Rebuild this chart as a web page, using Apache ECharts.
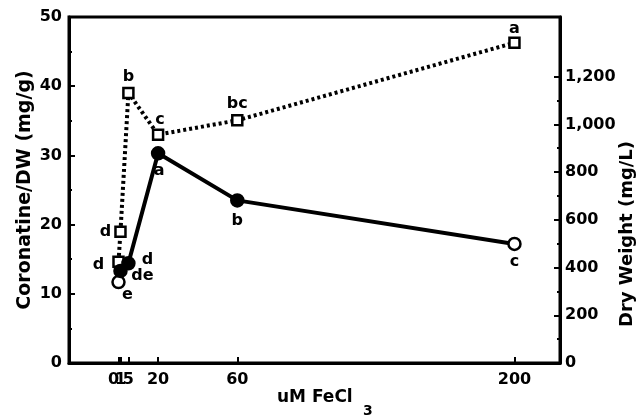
<!DOCTYPE html>
<html>
<head>
<meta charset="utf-8">
<script src="https://cdn.jsdelivr.net/npm/echarts@6/dist/echarts.min.js"></script>
<style>html,body{margin:0;padding:0;background:#fff}#c{width:639px;height:417px}</style>
</head>
<body>
<div id="c"></div>
<script>
// ---- data ----
const xValues = [0, 1, 5, 20, 60, 200];
const coronatine = [11.7, 13.3, 14.4, 30.3, 23.5, 17.2];
const coronatineLetters = ['e', 'de', 'd', 'a', 'b', 'c'];
const dryWeight = [424, 550, 1132, 957, 1017, 1342];
const dryWeightLetters = ['d', 'd', 'b', 'c', 'bc', 'a'];
const xTickValues = [0, 1, 5, 20, 60, 200];
const leftTickValues = [0, 10, 20, 30, 40, 50];
const rightTickValues = [0, 200, 400, 600, 800, 1000, 1200];
const rightMinorTickValues = [100, 300, 500, 700, 900, 1100];
const xTitle = 'uM FeCl';
const xTitleSub = '3';
const leftTitle = 'Coronatine/DW (mg/g)';
const rightTitle = 'Dry Weight (mg/L)';

// ---- styling ----
const FONT = 'DejaVu Sans';
const corLabelOffsets = [[9, 13], [22, 5], [19, -4], [1, 18], [0, 20], [0, 18]];
const dwLabelOffsets = [[-20, 3], [-15, 0], [0, -16], [2, -15], [0, -16], [0, -14]];
const corFilled = [false, true, true, true, true, false];

const chart = echarts.init(document.getElementById('c'), null, {renderer: 'canvas'});

const labelStyle = {fontFamily: FONT, fontWeight: 'bold', fontSize: 16, color: '#000'};

const corData = xValues.map((x, i) => ({
  value: [x, coronatine[i]],
  itemStyle: {color: corFilled[i] ? '#000' : '#fff', borderColor: '#000', borderWidth: 2.5},
  label: Object.assign({show: true, formatter: coronatineLetters[i], position: 'inside',
    offset: corLabelOffsets[i], align: 'center', verticalAlign: 'middle'}, labelStyle)
}));
const dwData = xValues.map((x, i) => ({
  value: [x, dryWeight[i]],
  label: Object.assign({show: true, formatter: dryWeightLetters[i], position: 'inside',
    offset: dwLabelOffsets[i], align: 'center', verticalAlign: 'middle'}, labelStyle)
}));

const axisText = {fontFamily: FONT, fontWeight: 'bold', fontSize: 16, color: '#000'};
const tickLine = {width: 2, color: '#000'};

chart.setOption({
  animation: false,
  backgroundColor: '#fff',
  grid: {left: 69, right: 79, top: 17, bottom: 54, show: true, borderColor: '#000', borderWidth: 3, backgroundColor: 'transparent'},
  xAxis: [
    {
      type: 'value', min: -25, max: 223, position: 'bottom',
      splitLine: {show: false},
      axisLine: {onZero: false, lineStyle: {color: '#000', width: 3}},
      axisTick: {inside: true, length: 6, lineStyle: tickLine, customValues: xTickValues},
      axisLabel: Object.assign({margin: 9, customValues: xTickValues.filter(v => v !== 1), hideOverlap: false,
        formatter: v => v === 0 ? '{l|0}' : String(v),
        rich: {l: Object.assign({padding: [0, 10, 0, 0]}, axisText)}}, axisText)
    },
    {
      type: 'value', min: -25, max: 223, position: 'bottom',
      splitLine: {show: false},
      axisLine: {show: false, onZero: false},
      axisTick: {show: false},
      axisLabel: Object.assign({margin: 9, customValues: [1], hideOverlap: false}, axisText)
    }
  ],
  yAxis: [
    {
      type: 'value', min: 0, max: 50, interval: 10, position: 'left',
      name: leftTitle, nameLocation: 'middle', nameRotate: 90, nameGap: 34, nameMoveOverlap: false,
      nameTextStyle: {fontFamily: FONT, fontWeight: 'bold', fontSize: 19, color: '#000'},
      splitLine: {show: false},
      axisLine: {show: true, onZero: false, lineStyle: {color: '#000', width: 3}},
      axisTick: {inside: true, length: 6, lineStyle: tickLine, customValues: [10, 20, 30, 40]},
      minorTick: {show: true, splitNumber: 2, length: 3, lineStyle: tickLine},
      axisLabel: Object.assign({margin: 7, customValues: leftTickValues}, axisText)
    },
    {
      type: 'value', min: 0, max: 1450, interval: 200, position: 'right',
      splitLine: {show: false},
      axisLine: {show: true, onZero: false, lineStyle: {color: '#000', width: 3}},
      axisTick: {inside: true, length: 6, lineStyle: tickLine, customValues: rightTickValues.slice(1)},
      axisLabel: Object.assign({margin: 5, customValues: rightTickValues,
        formatter: v => v.toLocaleString('en-US')}, axisText)
    },
    {
      type: 'value', min: 0, max: 1450, interval: 200, position: 'right',
      splitLine: {show: false},
      axisLine: {show: false, onZero: false},
      axisTick: {inside: true, length: 3, lineStyle: tickLine, customValues: rightMinorTickValues},
      axisLabel: {show: false}
    }
  ],
  graphic: [
    {type: 'text', left: 277, top: 389, style: {text: xTitle, font: 'bold 17px "DejaVu Sans"', fill: '#000'}},
    {type: 'text', left: 363, top: 404, style: {text: xTitleSub, font: 'bold 14px "DejaVu Sans"', fill: '#000'}},
    {type: 'text', x: 627, y: 234, rotation: Math.PI / 2,
      style: {text: rightTitle, font: 'bold 18px "DejaVu Sans"', fill: '#000', align: 'center', verticalAlign: 'middle'}}
  ],
  series: [
    {
      type: 'line', xAxisIndex: 0, yAxisIndex: 1, data: dwData,
      symbol: 'rect', symbolSize: 10,
      itemStyle: {color: '#fff', borderColor: '#000', borderWidth: 2.5},
      lineStyle: {color: '#000', width: 4, type: [3, 3]},
      z: 3
    },
    {
      type: 'line', xAxisIndex: 0, yAxisIndex: 0, data: corData,
      symbol: 'circle', symbolSize: 12,
      lineStyle: {color: '#000', width: 4},
      z: 4
    }
  ]
});
</script>
</body>
</html>
